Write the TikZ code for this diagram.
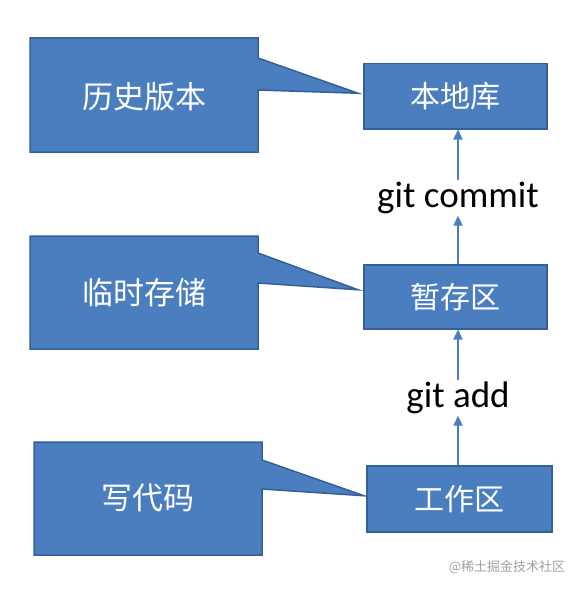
\documentclass[tikz,border=0pt]{standalone}
\usepackage{fontspec}
\setmainfont{Carlito}
\newfontfamily\cjk{Noto Sans CJK SC}
\usetikzlibrary{arrows.meta,calc}
\definecolor{fillblue}{HTML}{4A7EBF}
\definecolor{edgeblue}{HTML}{34609A}
\definecolor{markgray}{HTML}{A0A0A0}
\begin{document}
\begin{tikzpicture}[x=1pt,y=-1pt,
  box/.style={draw=edgeblue,line width=1.5pt,fill=fillblue,text=white,
    font=\cjk\fontsize{30}{30}\selectfont,minimum height=65pt,inner sep=0pt,anchor=north west},
  callout/.style={draw=edgeblue,line width=1.5pt,fill=fillblue,line join=miter},
  calltext/.style={text=white,font=\cjk\fontsize{31}{31}\selectfont,inner sep=0pt},
  lbl/.style={font=\fontsize{37}{37}\selectfont,text height=26pt,text depth=8pt,inner sep=0.5pt},
  arr/.style={draw=fillblue,line width=2pt,-{Triangle[width=9pt,length=10pt]}}]
\useasboundingbox (0,0) rectangle (576,591);
% boxes
\node[box,minimum width=183pt] (lib) at (363,63) {本地库};
\node[box,minimum width=183pt,minimum height=64pt] (stage) at (363,264) {暂存区};
\node[box,minimum width=185pt,minimum height=66pt] (work) at (366,465) {工作区};
% labels
\node[lbl] (commit) at (458,198) {git commit};
\node[lbl] (add) at (458,398) {git add};
% arrows
\draw[arr] (commit.north) -- (commit.north |- lib.south);
\draw[arr] (commit.south |- stage.north) -- (commit.south);
\draw[arr] (add.north) -- (add.north |- stage.south);
\draw[arr] (add.south |- work.north) -- (add.south);
% callouts
\draw[callout] (30,38) -- (258,38) -- (258,58) -- ($(lib.west)+(-5,-3)$) -- (258,90) -- (258,152) -- (30,152) -- cycle;
\node[calltext] (t1) at (144,97) {历史版本};
\draw[callout] (30,236) -- (258,236) -- (258,253) -- ($(stage.west)+(-5,-7)$) -- (258,283) -- (258,349) -- (30,349) -- cycle;
\node[calltext] (t2) at (144,293) {临时存储};
\draw[callout] (34,442) -- (262,442) -- (262,460) -- ($(work.west)+(-2,-3)$) -- (262,489) -- (262,555) -- (34,555) -- cycle;
\node[calltext] (t3) at (148,498) {写代码};
% watermark
\node[text=markgray,font=\cjk\fontsize{13}{13}\selectfont,inner sep=0pt] (wm) at (507,567) {@稀土掘金技术社区};
\end{tikzpicture}
\end{document}
